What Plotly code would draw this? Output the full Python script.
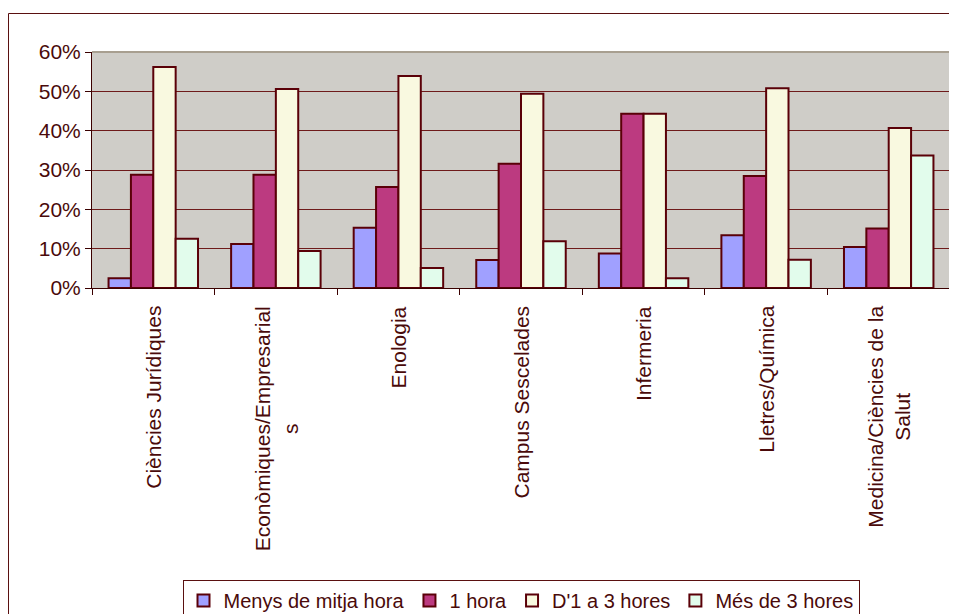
import plotly.graph_objects as go

categories = [
    "Ciències Jurídiques",
    "Econòmiques/Empresarial<br>s",
    "Enologia",
    "Campus Sescelades",
    "Infermeria",
    "Lletres/Química",
    "Medicina/Ciències de la<br>Salut",
]
series_names = ["Menys de mitja hora", "1 hora", "D'1 a 3 hores", "Més de 3 hores"]
menys_mitja_hora = [0.025, 0.112, 0.153, 0.071, 0.088, 0.134, 0.104]
una_hora = [0.288, 0.288, 0.257, 0.316, 0.443, 0.285, 0.151]
d1_a_3_hores = [0.562, 0.506, 0.539, 0.494, 0.443, 0.508, 0.407]
mes_3_hores = [0.125, 0.094, 0.051, 0.119, 0.025, 0.072, 0.337]

colors = ["#A0A0FF", "#BC3A80", "#F9F9E0", "#E2FCEC"]
OUTLINE = "#5A0008"
TEXT = "#4A0A0A"

# the page body has an 8px margin, so work in screen pixels and shift
OFF = 8
W, H = 957 - OFF, 614 - OFF
# plot area in screen pixels: x 92..950, y 52..288
L, R, T, B = 92 - OFF, 950 - OFF, 52 - OFF, 288 - OFF
pw, ph = R - L, B - T

def px(x):
    return (x - OFF - L) / pw

def py(y):
    return (B - (y - OFF)) / ph

fig = go.Figure()
for name, vals, col in zip(series_names,
                           [menys_mitja_hora, una_hora, d1_a_3_hores, mes_3_hores],
                           colors):
    fig.add_trace(go.Bar(
        x=categories, y=vals, name=name,
        marker=dict(color=col, line=dict(color=OUTLINE, width=2)),
    ))

# category labels as annotations so wrapped lines are centred like the original
for cat in categories:
    fig.add_annotation(
        x=cat, xref="x", y=py(304), yref="paper",
        text=cat, textangle=-90, showarrow=False,
        xanchor="center", yanchor="top", align="center",
        font=dict(size=21, color=TEXT),
    )

fig.update_layout(
    width=W, height=H,
    margin=dict(l=L, r=W - R, t=T, b=H - B, autoexpand=False),
    paper_bgcolor="white",
    plot_bgcolor="#CFCDC8",
    barmode="group", bargap=0.27, bargroupgap=0,
    font=dict(family="Liberation Sans, Arial, sans-serif", color=TEXT),
    showlegend=True,
    legend=dict(
        orientation="h", x=px(521), xanchor="center", y=py(580), yanchor="top",
        bordercolor="#5A1010", borderwidth=1, bgcolor="white",
        font=dict(size=20, color=TEXT), itemwidth=30, tracegroupgap=0,
    ),
    xaxis=dict(
        showticklabels=False, automargin=False,
        showline=True, linecolor="#3A0000", linewidth=1,
        ticks="outside", tickson="boundaries", ticklen=6, tickcolor="#3A0000",
        showgrid=False,
    ),
    yaxis=dict(
        range=[0, 0.6], dtick=0.1, tickformat=".0%", automargin=False,
        tickfont=dict(size=21, color=TEXT),
        showline=True, linecolor="#3A0000", linewidth=1,
        ticks="outside", ticklen=6, tickcolor="#3A0000",
        gridcolor="#6E1A1A", gridwidth=1, zeroline=False,
    ),
    shapes=[
        # plot area border top/right
        dict(type="line", xref="paper", yref="paper", x0=0, x1=1, y0=1, y1=1,
             line=dict(color="#A89F90", width=2)),
        dict(type="line", xref="paper", yref="paper", x0=1, x1=1, y0=0, y1=1,
             line=dict(color="#A89F90", width=2)),
        # outer chart border
        dict(type="rect", xref="paper", yref="paper",
             x0=px(8.5), x1=px(990), y0=py(660), y1=py(13.5),
             line=dict(color="#5A1010", width=1), layer="below"),
    ],
)

fig.write_html("out.html")
